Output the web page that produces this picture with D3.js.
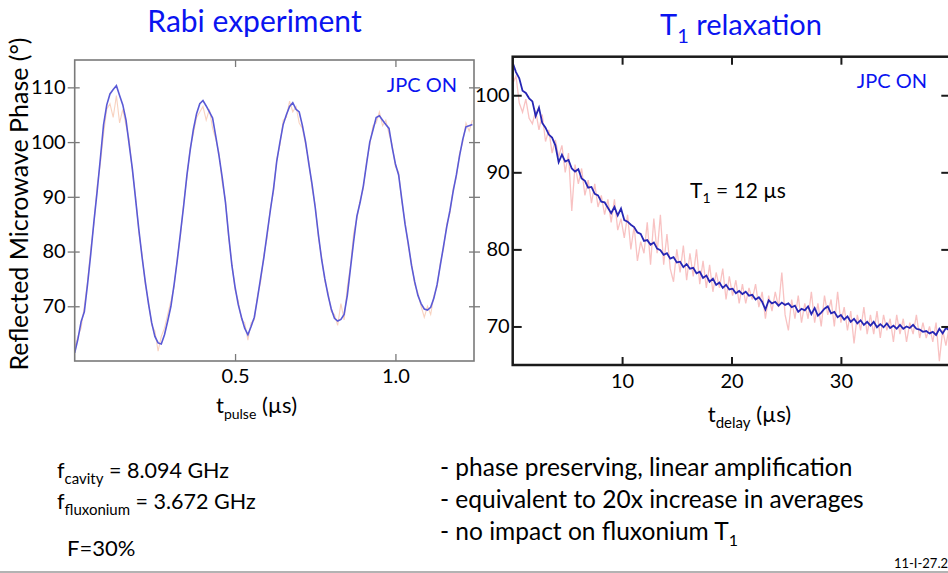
<!DOCTYPE html>
<html>
<head>
<meta charset="utf-8">
<script src="https://cdn.jsdelivr.net/npm/d3@7"></script>
<style>
  body { margin: 0; background: #fff; }
  svg text { font-family: Lato, "Open Sans", sans-serif; }
</style>
</head>
<body>
<div id="chart"></div>
<script>
// Rabi experiment: phase (deg) sampled every 0.01 us from t = 0
const rabiStart = 0, rabiStep = 0.01;
const rabiAvg = [
  61.5, 64.0, 67.2, 69.0, 74.0, 79.5, 85.5, 91.0, 97.0, 103.2,
  106.8, 108.8, 109.6, 110.3, 108.5, 106.8, 104.0, 99.5, 95.0, 89.5,
  84.0, 79.0, 74.5, 70.5, 67.0, 64.5, 63.3, 63.1, 64.8, 67.3,
  70.0, 74.0, 78.5, 83.5, 88.5, 94.0, 98.5, 102.3, 105.2, 107.0,
  107.6, 106.6, 105.5, 104.4, 101.0, 97.5, 93.5, 89.0, 83.0, 77.5,
  73.5, 70.3, 68.0, 66.0, 64.8, 66.3, 68.0, 71.5, 75.3, 79.0,
  83.3, 87.5, 91.5, 96.5, 100.0, 103.2, 105.0, 106.5, 107.2, 106.0,
  105.5, 103.0, 100.0, 96.0, 92.3, 88.0, 83.0, 78.5, 75.0, 72.0,
  69.5, 67.8, 67.3, 67.6, 68.5, 72.0, 77.0, 82.0, 86.5, 89.0,
  92.0, 96.0, 100.0, 102.2, 104.5, 104.8, 104.0, 103.2, 102.5, 99.0,
  96.0, 94.0, 89.5, 85.0, 81.5, 77.5, 74.5, 72.0, 70.5, 69.5,
  69.3, 69.8, 71.5, 74.0, 77.5, 81.0, 84.5, 87.5, 91.0, 94.0,
  97.5, 100.5, 102.8, 103.0, 103.2
];
const rabiRaw = [
  62.5, 64.5, 66.0, 70.0, 74.5, 80.5, 85.0, 92.0, 96.0, 101.5,
  106.0, 107.0, 104.5, 108.5, 103.5, 106.0, 103.0, 100.5, 94.5, 90.0,
  83.5, 79.5, 74.0, 71.0, 66.5, 65.5, 61.8, 64.5, 66.0, 68.5,
  71.0, 73.5, 79.0, 83.0, 89.0, 93.5, 99.0, 101.5, 104.5, 105.5,
  106.5, 104.0, 106.0, 102.5, 100.5, 98.0, 92.5, 89.5, 82.5, 78.0,
  73.0, 71.0, 67.5, 67.0, 63.8, 67.0, 67.5, 72.0, 74.5, 79.5,
  82.5, 88.0, 91.0, 97.0, 99.5, 104.0, 104.5, 107.5, 105.5, 106.5,
  103.5, 102.5, 99.5, 96.5, 91.5, 88.5, 82.5, 79.0, 74.5, 72.5,
  69.0, 68.5, 66.5, 70.5, 67.5, 73.5, 77.5, 83.5, 86.0, 89.5,
  91.5, 96.5, 99.5, 103.0, 103.5, 105.5, 103.0, 104.0, 101.5, 99.5,
  95.5, 94.5, 89.0, 85.5, 81.0, 78.0, 74.0, 72.5, 70.0, 68.0,
  70.0, 68.5, 72.0, 73.5, 78.0, 80.5, 85.0, 87.0, 91.5, 93.5,
  98.0, 100.0, 103.5, 102.0, 104.0
];
const rabiXTicks = [0.5, 1.0];
const rabiYTicks = [70, 80, 90, 100, 110];

// T1 relaxation: phase (deg) sampled every 0.3 us from t = 0
const t1Start = 0, t1Step = 0.3;
const t1Avg = [
  104.2, 103.0, 102.2, 100.6, 100.3, 99.6, 99.2, 97.3, 98.4, 96.4,
  95.8, 94.9, 94.5, 93.5, 91.3, 92.3, 91.4, 91.6, 90.5, 90.1,
  90.4, 89.2, 88.9, 88.0, 88.1, 87.2, 87.0, 86.2, 86.1, 85.4,
  84.7, 85.5, 84.4, 85.3, 83.8, 83.6, 83.2, 82.9, 82.2, 82.0,
  81.1, 81.2, 80.6, 80.9, 80.1, 79.9, 79.3, 79.5, 78.8, 79.0,
  78.3, 78.4, 77.7, 78.1, 77.5, 77.6, 76.9, 77.1, 76.3, 76.6,
  75.8, 76.2, 75.4, 75.7, 75.0, 75.4, 74.8, 74.9, 74.3, 74.6,
  74.2, 74.5, 74.0, 74.1, 73.5, 73.8, 73.2, 72.2, 73.4, 73.0,
  73.2, 72.7, 73.1, 72.8, 73.0, 72.5, 72.7, 71.9, 72.3, 72.1,
  72.6, 71.6, 72.4, 71.4, 71.8, 72.3, 72.6, 71.7, 71.9, 71.2,
  71.5, 70.9, 71.3, 70.6, 71.0, 70.4, 70.8, 70.2, 70.6, 70.1,
  70.6, 69.9, 70.3, 69.9, 70.4, 69.8, 70.1, 69.7, 70.2, 69.7,
  70.0, 69.8, 70.2, 69.7, 69.6, 69.3, 69.4, 69.1, 69.3, 68.9,
  69.7, 69.1, 69.8, 69.5
];
const t1Raw = [
  101.5, 102.5, 99.0, 97.8, 99.5, 97.0, 96.3, 98.0, 95.5, 97.5,
  94.0, 95.5, 92.5, 94.2, 92.0, 93.5, 90.0, 92.5, 85.0, 91.0,
  88.5, 90.5, 87.0, 89.0, 86.0, 88.5, 85.5, 87.0, 84.5, 86.5,
  83.5, 86.5, 82.5, 84.0, 81.5, 84.5, 80.0, 83.0, 78.5, 81.0,
  79.5, 83.5, 78.0, 84.0, 79.5, 84.5, 78.0, 82.0, 77.5, 75.8,
  80.0, 77.0, 80.5, 76.0, 79.5, 76.5, 80.0, 75.5, 78.5, 75.0,
  78.0, 74.5, 77.0, 75.0, 77.5, 73.5, 76.5, 74.0, 76.0, 73.0,
  75.5, 73.0, 75.0, 73.5, 75.5, 72.5, 74.5, 71.0, 74.0, 72.0,
  74.5, 72.5, 77.0, 71.5, 69.5, 73.5, 71.0, 74.0, 70.5, 73.0,
  71.0, 74.5, 70.5, 73.0, 70.0, 74.0, 71.5, 73.5, 70.0, 74.5,
  70.5, 72.5, 69.5, 72.0, 67.8, 71.5, 69.5, 72.5, 69.0, 71.5,
  69.0, 72.0, 68.5, 71.5, 69.5, 71.0, 68.0, 71.5, 69.0, 71.0,
  68.0, 70.5, 69.0, 71.5, 68.5, 70.5, 68.5, 70.0, 68.0, 70.5,
  65.5, 69.5, 67.5, 70.0
];
const t1XTicks = [10, 20, 30];
const t1YTicks = [70, 80, 90, 100];

const width = 948, height = 573;
const blue = "#0a14f0";

const svg = d3.select("#chart").append("svg")
  .attr("width", width)
  .attr("height", height);

svg.append("rect").attr("width", width).attr("height", height).attr("fill", "#fff");

function styleAxis(g, color, w, size) {
  g.attr("font-family", null).attr("font-size", size);
  g.select(".domain").remove();
  g.selectAll(".tick line").attr("stroke", color).attr("stroke-width", w);
  g.selectAll(".tick text").attr("fill", "#000");
}

// ---------- Rabi panel ----------
const xR = d3.scaleLinear().domain([0, 1.245]).range([74.7, 474]);
const yR = d3.scaleLinear().domain([60, 115]).range([361, 60]);

svg.append("clipPath").attr("id", "clipRabi")
  .append("rect")
  .attr("x", xR(0)).attr("y", yR(115))
  .attr("width", xR(1.245) - xR(0)).attr("height", yR(60) - yR(115));

const lineR = d3.line()
  .x((d, i) => xR(rabiStart + i * rabiStep))
  .y(d => yR(d));

const gR = svg.append("g").attr("clip-path", "url(#clipRabi)");
gR.append("path").datum(rabiRaw)
  .attr("d", lineR).attr("fill", "none")
  .attr("stroke", "#f4b496").attr("stroke-width", 1.1).attr("opacity", 0.6);
gR.append("path").datum(rabiAvg)
  .attr("d", lineR).attr("fill", "none")
  .attr("stroke", "#5a5ad6").attr("stroke-width", 1.6);

const greyR = "#7a7a7a";
svg.append("g").attr("transform", `translate(${xR(0)},0)`)
  .call(d3.axisLeft(yR).tickValues(rabiYTicks).tickSize(7).tickPadding(2))
  .call(g => styleAxis(g, greyR, 1.3, 20));
svg.append("g").attr("transform", `translate(${xR(0)},0)`)
  .call(d3.axisRight(yR).tickValues(rabiYTicks).tickSize(5).tickFormat(""))
  .call(g => styleAxis(g, greyR, 1.3, 20));
svg.append("g").attr("transform", `translate(${xR(1.245)},0)`)
  .call(d3.axisRight(yR).tickValues(rabiYTicks).tickSize(6).tickFormat(""))
  .call(g => styleAxis(g, greyR, 1.3, 20));
svg.append("g").attr("transform", `translate(${xR(1.245)},0)`)
  .call(d3.axisLeft(yR).tickValues(rabiYTicks).tickSize(5).tickFormat(""))
  .call(g => styleAxis(g, greyR, 1.3, 20));
svg.append("g").attr("transform", `translate(0,${yR(60)})`)
  .call(d3.axisBottom(xR).tickValues(rabiXTicks).tickSize(-7).tickPadding(8).tickFormat(d3.format(".1f")))
  .call(g => styleAxis(g, greyR, 1.3, 20));
svg.append("g").attr("transform", `translate(0,${yR(115)})`)
  .call(d3.axisTop(xR).tickValues(rabiXTicks).tickSize(-7).tickFormat(""))
  .call(g => styleAxis(g, greyR, 1.3, 20));

svg.append("rect")
  .attr("x", xR(0)).attr("y", yR(115))
  .attr("width", xR(1.245) - xR(0)).attr("height", yR(60) - yR(115))
  .attr("fill", "none").attr("stroke", greyR).attr("stroke-width", 1.6);

// ---------- T1 panel ----------
const xT = d3.scaleLinear().domain([0, 40]).range([512.7, 950.3]);
const yT = d3.scaleLinear().domain([65, 105]).range([365, 56.7]);

svg.append("clipPath").attr("id", "clipT1")
  .append("rect")
  .attr("x", xT(0)).attr("y", yT(105))
  .attr("width", xT(40) - xT(0)).attr("height", yT(65) - yT(105));

const lineT = d3.line()
  .x((d, i) => xT(t1Start + i * t1Step))
  .y(d => yT(d));

const gT = svg.append("g").attr("clip-path", "url(#clipT1)");
gT.append("path").datum(t1Raw)
  .attr("d", lineT).attr("fill", "none")
  .attr("stroke", "#f6b3b3").attr("stroke-width", 1.3).attr("opacity", 0.8);
gT.append("path").datum(t1Avg)
  .attr("d", lineT).attr("fill", "none")
  .attr("stroke", "#2626b4").attr("stroke-width", 1.8);

const darkT = "#1a1a1a";
svg.append("g").attr("transform", `translate(${xT(0)},0)`)
  .call(d3.axisLeft(yT).tickValues(t1YTicks).tickSize(-9).tickPadding(3))
  .call(g => styleAxis(g, darkT, 2, 20));
svg.append("g").attr("transform", `translate(${xT(40)},0)`)
  .call(d3.axisRight(yT).tickValues(t1YTicks).tickSize(-9).tickFormat(""))
  .call(g => styleAxis(g, darkT, 2, 20));
svg.append("g").attr("transform", `translate(0,${yT(65)})`)
  .call(d3.axisBottom(xT).tickValues(t1XTicks).tickSize(-8).tickPadding(9))
  .call(g => styleAxis(g, darkT, 2, 20));
svg.append("g").attr("transform", `translate(0,${yT(105)})`)
  .call(d3.axisTop(xT).tickValues(t1XTicks).tickSize(-8).tickFormat(""))
  .call(g => styleAxis(g, darkT, 2, 20));

svg.append("rect")
  .attr("x", xT(0)).attr("y", yT(105))
  .attr("width", xT(40) - xT(0)).attr("height", yT(65) - yT(105))
  .attr("fill", "none").attr("stroke", darkT).attr("stroke-width", 2.5);

// ---------- Text ----------
function subText(x, y, parts, opts) {
  const t = svg.append("text")
    .attr("x", x).attr("y", y)
    .attr("text-anchor", opts.anchor || "start")
    .attr("fill", opts.color || "#000")
    .style("font-size", opts.size + "px");
  let shift = 0;
  parts.forEach(([s, isSub]) => {
    const target = isSub ? opts.subShift : 0;
    t.append("tspan")
      .attr("dy", target - shift)
      .style("font-size", isSub ? opts.subSize + "px" : null)
      .text(s);
    shift = target;
  });
  return t;
}

svg.append("text").attr("x", 254.5).attr("y", 31.5)
  .attr("text-anchor", "middle").attr("fill", blue)
  .style("font-size", "30px").text("Rabi experiment");

subText(741, 35, [["T", false], ["1", true], [" relaxation", false]],
  { anchor: "middle", color: blue, size: 29, subSize: 20, subShift: 8 });

svg.append("text").attr("x", 457).attr("y", 91.5)
  .attr("text-anchor", "end").attr("fill", blue)
  .style("font-size", "20px").text("JPC ON");
svg.append("text").attr("x", 927).attr("y", 88.3)
  .attr("text-anchor", "end").attr("fill", blue)
  .style("font-size", "20px").text("JPC ON");

subText(690, 197.7, [["T", false], ["1", true], [" = 12 µs", false]],
  { size: 21, subSize: 14, subShift: 5 });

svg.append("text")
  .attr("transform", "translate(28,204) rotate(-90)")
  .attr("text-anchor", "middle")
  .style("font-size", "25px")
  .text("Reflected Microwave Phase (°)");

subText(256.5, 413.3, [["t", false], ["pulse", true], [" (µs)", false]],
  { anchor: "middle", size: 22, subSize: 14, subShift: 6 });
subText(749.5, 421.7, [["t", false], ["delay", true], [" (µs)", false]],
  { anchor: "middle", size: 22, subSize: 15, subShift: 6 });

subText(57, 478, [["f", false], ["cavity", true], [" = 8.094 GHz", false]],
  { size: 21.5, subSize: 15, subShift: 6 });
subText(57, 509, [["f", false], ["fluxonium", true], [" = 3.672 GHz", false]],
  { size: 21.5, subSize: 15, subShift: 6 });
svg.append("text").attr("x", 67).attr("y", 556)
  .style("font-size", "22px").text("F=30%");

svg.append("text").attr("x", 440).attr("y", 476)
  .style("font-size", "24.5px").text("- phase preserving, linear amplification");
svg.append("text").attr("x", 440).attr("y", 508)
  .style("font-size", "24.5px").text("- equivalent to 20x increase in averages");
subText(440, 540, [["- no impact on fluxonium T", false], ["1", true]],
  { size: 24.5, subSize: 16, subShift: 6 });

svg.append("text").attr("x", 948).attr("y", 568)
  .attr("text-anchor", "end")
  .style("font-size", "13px").text("11-I-27.2");

svg.append("line")
  .attr("x1", 0).attr("x2", width).attr("y1", 572).attr("y2", 572)
  .attr("stroke", "#9a9a9a").attr("stroke-width", 1.5);
</script>
</body>
</html>
